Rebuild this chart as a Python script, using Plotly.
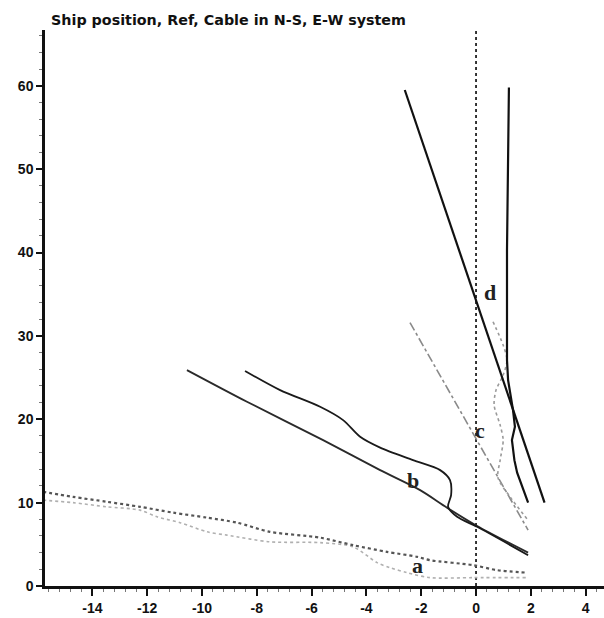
import plotly.graph_objects as go

# Curve d: straight cable line and ship track
d1_x = [-2.6, 2.5]
d1_y = [59.5, 10.0]
d2_x = [1.20, 1.17, 1.13, 1.13, 1.17, 1.35, 1.42, 1.31, 1.40, 1.50, 1.90]
d2_y = [59.8, 52.3, 40.3, 27.1, 24.7, 21.1, 19.1, 17.5, 15.1, 13.6, 10.0]

# Curve c
c1_x = [-2.41, 1.90]
c1_y = [31.6, 6.7]
c2_x = [0.62, 0.99, 1.13, 0.99, 0.73, 0.66, 0.88, 0.99, 0.88, 0.80, 1.24, 1.90]
c2_y = [31.7, 28.9, 27.1, 25.3, 23.5, 21.7, 19.3, 17.5, 15.1, 13.0, 10.7, 7.9]

# Curve b
b1_x = [-8.43, -7.15, -5.69, -4.85, -4.23, -3.50, -2.30, -1.31, -0.95, -0.91, -1.02, -0.69, 0.04, 1.90]
b1_y = [25.8, 23.5, 21.5, 19.9, 17.9, 16.6, 15.1, 13.9, 12.7, 10.9, 9.5, 8.3, 7.1, 3.7]
b2_x = [-10.55, -8.36, -5.58, -3.50, -2.04, -1.06, 0.04, 1.90]
b2_y = [25.9, 22.1, 17.5, 13.9, 11.5, 9.4, 7.2, 4.0]

# Curve a
a1_x = [-15.80, -14.71, -13.47, -12.26, -11.06, -9.82, -8.72, -7.52, -5.69, -4.49, -3.25, -2.15, -1.68, -0.11, 0.77, 1.86]
a1_y = [11.3, 10.7, 10.1, 9.5, 8.8, 8.2, 7.6, 6.5, 5.8, 4.9, 4.1, 3.5, 3.1, 2.5, 1.9, 1.6]
a2_x = [-15.80, -14.71, -13.47, -12.26, -11.64, -10.80, -9.82, -9.09, -7.52, -5.69, -4.49, -3.61, -3.14, -2.52, -1.68, -0.11, 1.86]
a2_y = [10.3, 10.0, 9.5, 9.1, 8.3, 7.6, 6.5, 6.1, 5.3, 5.2, 4.7, 2.8, 2.2, 1.6, 1.0, 1.0, 1.0]

# Reference line (x = 0)
ref_x = [0, 0]
ref_y = [0, 66.7]

label_text = ["a", "b", "c", "d"]
label_x = [-2.12, -2.30, 0.15, 0.51]
label_y = [2.4, 12.6, 18.7, 35.2]

x_ticks = [-14, -12, -10, -8, -6, -4, -2, 0, 2, 4]
x_tick_text = ["-14", "-12", "-10", "-8", "-6", "-4", "-2", "0", "2", "4"]
y_ticks = [0, 10, 20, 30, 40, 50, 60]
y_tick_text = ["0", "10", "20", "30", "40", "50", "60"]

title_text = "Ship position, Ref, Cable in N-S, E-W system"

fig = go.Figure()

def add(x, y, color, width, dash="solid", shape="linear"):
    fig.add_trace(go.Scatter(x=x, y=y, mode="lines",
                             line=dict(color=color, width=width, dash=dash, shape=shape, smoothing=0.8),
                             showlegend=False, hoverinfo="skip"))

add(ref_x, ref_y, "#222222", 1.8, "dot")
add(a2_x, a2_y, "#b0b0b0", 1.6, "dot", "spline")
add(a1_x, a1_y, "#555555", 2.2, "dot", "spline")
add(b2_x, b2_y, "#2a2a2a", 1.8, "solid", "spline")
add(b1_x, b1_y, "#1a1a1a", 1.8, "solid", "spline")
add(c1_x, c1_y, "#8a8a8a", 1.6, "dashdot")
add(c2_x, c2_y, "#9a9a9a", 1.6, "dot", "spline")
add(d1_x, d1_y, "#111111", 2.2)
add(d2_x, d2_y, "#111111", 2.2)

for t, x, y in zip(label_text, label_x, label_y):
    fig.add_annotation(x=x, y=y, text="<b>" + t + "</b>", showarrow=False,
                       font=dict(family="Liberation Serif, Times New Roman, serif",
                                 size=22, color="#222222"))

fig.add_annotation(xref="paper", yref="paper", x=0.008, y=1, xanchor="left", yanchor="bottom",
                   yshift=0, showarrow=False, text="<b>" + title_text + "</b>",
                   font=dict(family="DejaVu Sans, Arial, sans-serif", size=14.3, color="#111111"))

tickfont = dict(family="Liberation Sans, Arial, sans-serif", size=14, color="#111111", weight="bold")

fig.update_layout(
    width=604, height=618,
    margin=dict(l=45, r=0, t=30, b=32),
    paper_bgcolor="white", plot_bgcolor="white",
    xaxis=dict(range=[-15.73, 4.67], tickvals=x_ticks, ticktext=x_tick_text,
               showgrid=False, zeroline=False,
               showline=True, linecolor="#111111", linewidth=2.5,
               ticks="outside", ticklen=7, tickwidth=2, tickcolor="#111111",
               tickfont=tickfont,
               minor=dict(dtick=0.4, ticks="outside", ticklen=3, tickcolor="#777777", tickwidth=1)),
    yaxis=dict(range=[0, 66.7], tickvals=y_ticks, ticktext=y_tick_text,
               showgrid=False, zeroline=False,
               showline=True, linecolor="#111111", linewidth=2.5,
               ticks="outside", ticklen=6, tickwidth=2, tickcolor="#111111",
               tickfont=tickfont,
               minor=dict(dtick=2, ticks="outside", ticklen=3, tickcolor="#777777", tickwidth=1)),
)

fig.write_html("out.html")
